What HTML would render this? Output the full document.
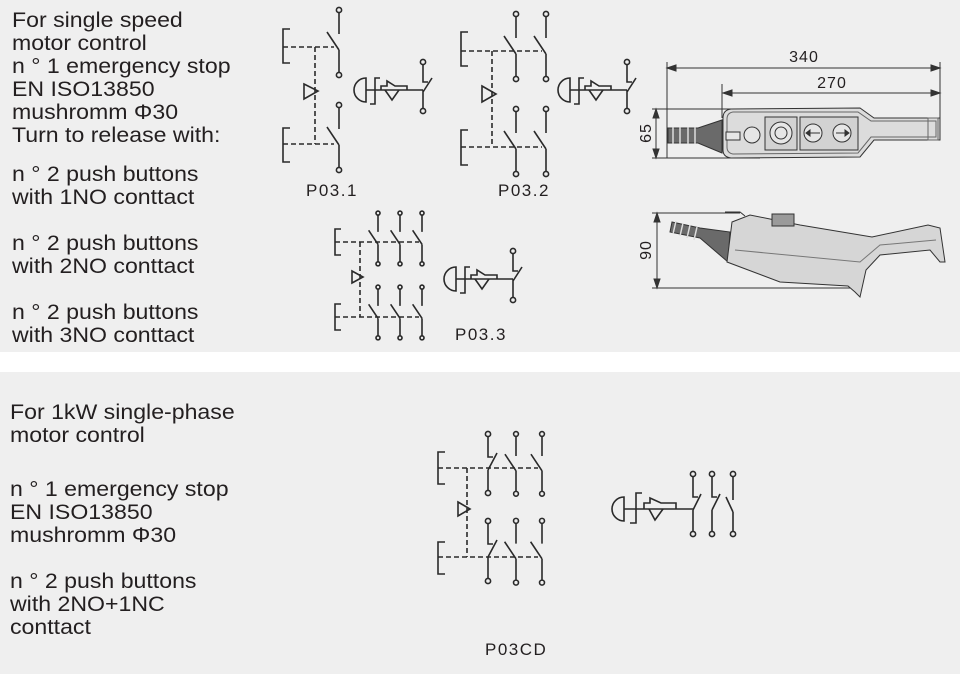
<!DOCTYPE html>
<html><head><meta charset="utf-8"><style>
html,body{margin:0;padding:0}
body{width:960px;height:674px;background:#efefef;position:relative;overflow:hidden;font-family:"Liberation Sans",Arial,sans-serif;color:#231f20}
.band{position:absolute;left:0;top:352px;width:960px;height:20px;background:#fff}
.t{position:absolute;font-size:21px;line-height:23px;white-space:nowrap;transform:scaleX(1.1);transform-origin:0 0}
svg{position:absolute;left:0;top:0}
use,g{vector-effect:non-scaling-stroke}
</style></head><body>
<div class="band"></div>
<div class="t" style="left:12px;top:9px">For single speed<br>motor control<br>n ° 1 emergency stop<br>EN ISO13850<br>mushromm Φ30<br>Turn to release with:</div>
<div class="t" style="left:12px;top:163px">n ° 2 push buttons<br>with 1NO conttact</div>
<div class="t" style="left:12px;top:232px">n ° 2 push buttons<br>with 2NO conttact</div>
<div class="t" style="left:12px;top:301px">n ° 2 push buttons<br>with 3NO conttact</div>
<div class="t" style="left:10px;top:401px">For 1kW single-phase<br>motor control</div>
<div class="t" style="left:10px;top:478px">n ° 1 emergency stop<br>EN ISO13850<br>mushromm Φ30</div>
<div class="t" style="left:10px;top:570px">n ° 2 push buttons<br>with 2NO+1NC<br>conttact</div>

<svg width="960" height="674" viewBox="0 0 960 674">
<defs>
<g id="no"><circle cx="0" cy="-37" r="2.6" vector-effect="non-scaling-stroke"/><path d="M0,-34V-13M-12,-15L0,3M0,3V25" vector-effect="non-scaling-stroke"/><circle cx="0" cy="28" r="2.6" vector-effect="non-scaling-stroke"/></g>
<g id="mush">
 <path d="M366,78A12,12 0 0 0 366,102Z"/>
 <path d="M366,90H423"/>
 <path d="M380,78H375V104H370"/>
 <path d="M381,90V86H387V81L395,86H407V90"/>
 <path d="M385,90L392,100L399,90"/>
 <circle cx="423" cy="62" r="2.6"/>
 <path d="M423,65V82H428M423,92L432,78M423,90V108"/>
 <circle cx="423" cy="111" r="2.6"/>
</g>
</defs>
<g fill="none" stroke="#2a2a2a" stroke-width="1.6">
<!-- P03.1 -->
<use href="#no" transform="translate(339,47)"/>
<use href="#no" transform="translate(339,142)"/>
<path d="M290,29H283V63H290M290,128H283V162H290"/>
<path d="M283,47H334M283,144H334M315,47V144" stroke-dasharray="5,3"/>
<polygon points="304,84 318,91 304,99"/>
<use href="#mush"/>
<!-- P03.2 -->
<use href="#no" transform="translate(516,51)"/>
<use href="#no" transform="translate(546,51)"/>
<use href="#no" transform="translate(516,146)"/>
<use href="#no" transform="translate(546,146)"/>
<path d="M468,32H461V66H468M468,130H461V165H468"/>
<path d="M461,51H542M461,147H542M492,51V147" stroke-dasharray="5,3"/>
<polygon points="482,86 496,94 482,102"/>
<use href="#mush" transform="translate(204,0)"/>
<!-- P03.3 -->
<g transform="translate(378,242) scale(0.78)"><use href="#no"/></g>
<g transform="translate(400,242) scale(0.78)"><use href="#no"/></g>
<g transform="translate(422,242) scale(0.78)"><use href="#no"/></g>
<g transform="translate(378,316) scale(0.78)"><use href="#no"/></g>
<g transform="translate(400,316) scale(0.78)"><use href="#no"/></g>
<g transform="translate(422,316) scale(0.78)"><use href="#no"/></g>
<path d="M341,229H335V255H341M341,304H335V330H341"/>
<path d="M335,242H419M335,317H419M360,242V317" stroke-dasharray="5,3"/>
<polygon points="352,271 363,277 352,283"/>
<use href="#mush" transform="translate(90,189)"/>
<!-- P03CD -->
<circle cx="488" cy="434" r="2.6"/><path d="M488,437V457H493M488,470L497,453M488,470V490"/><circle cx="488" cy="493" r="2.6"/>
<g transform="translate(516,468) scale(0.92)"><use href="#no"/></g>
<g transform="translate(542,468) scale(0.92)"><use href="#no"/></g>
<circle cx="488" cy="521" r="2.6"/><path d="M488,524V544H493M488,557L497,540M488,557V578"/><circle cx="488" cy="581" r="2.6"/>
<g transform="translate(516,556) scale(0.95)"><use href="#no"/></g>
<g transform="translate(542,556) scale(0.95)"><use href="#no"/></g>
<path d="M445,452H438V484H445M445,542H438V574H445"/>
<path d="M438,468H538M438,557H538M467,468V557" stroke-dasharray="5,3"/>
<polygon points="458,502 470,509 458,516"/>
<path d="M624,497A12,12 0 0 0 624,521Z"/>
<path d="M624,509H693"/>
<path d="M642,493H636V523H630"/>
<path d="M644,509V503H650V498L661,503H676V509"/>
<path d="M649,509L655,520L663,509"/>
<circle cx="693" cy="474" r="2.6"/><path d="M693,477V497H698M693,510L701,494M693,510V531"/><circle cx="693" cy="534" r="2.6"/>
<circle cx="712" cy="474" r="2.6"/><path d="M712,477V497H717M712,510L720,494M712,510V531"/><circle cx="712" cy="534" r="2.6"/>
<circle cx="733" cy="474" r="2.6"/><path d="M733,477V500M726,497L733,512M733,512V531"/><circle cx="733" cy="534" r="2.6"/>
</g>
<g font-family="Liberation Sans, Arial, sans-serif" font-size="17" fill="#231f20" letter-spacing="1.5">
<text x="306" y="196">P03.1</text>
<text x="498" y="196">P03.2</text>
<text x="455" y="340">P03.3</text>
<text x="485" y="655">P03CD</text>
</g>
<g stroke="#333" stroke-width="1" fill="none">
<path d="M667,62V158M940,62V120M722,84V118"/>
<path d="M667,68H940M723,93H940"/>
<path d="M667,68l9,-3v6zM940,68l-9,-3v6zM723,93l9,-3v6zM940,93l-9,-3v6z" fill="#333"/>
<path d="M652,109H760M652,158H760M656,109V158"/>
<path d="M656,109l-3,9h6zM656,158l-3,-9h6z" fill="#333"/>
</g>
<g font-family="Liberation Sans, Arial, sans-serif" font-size="16" fill="#231f20" text-anchor="middle" letter-spacing="1">
<text x="804" y="62">340</text>
<text x="832" y="88">270</text>
<text transform="translate(651,133) rotate(-90)">65</text>
<text transform="translate(651,250) rotate(-90)">90</text>
</g>
<g stroke="#333" stroke-width="1">
<path d="M668,128H698L722,120V153L698,143H668Z" fill="#6a6a6a"/>
<path d="M673,127V144M680,127V144M688,127V144M695,127V144" stroke="#ddd" stroke-width="1.5"/>
<path d="M723,118Q723,110 731,109L860,108L874,118H940V140H874L860,157L731,158Q723,157 723,150Z" fill="#dcdcdc"/>
<path d="M727,119Q727,113 733,112L858,112L871,121H936V137H871L858,153L733,154Q727,153 727,147Z" fill="none" stroke="#666"/>
<rect x="765" y="117" width="32" height="33" fill="#d2d2d2"/>
<rect x="800" y="117" width="58" height="33" fill="#d2d2d2"/>
<circle cx="752" cy="135" r="8" fill="#e6e6e6"/>
<rect x="726" y="132" width="14" height="8" fill="#e6e6e6"/>
<circle cx="781" cy="133" r="11" fill="#e6e6e6"/>
<circle cx="781" cy="133" r="6" fill="none"/>
<circle cx="813" cy="133" r="9" fill="#e6e6e6"/>
<circle cx="842" cy="133" r="9" fill="#e6e6e6"/>
<path d="M807,133H820M836,133H849" fill="none"/>
<path d="M806,133l4,-3v6zM849,133l-4,-3v6z" fill="#333"/>
<rect x="928" y="118" width="10" height="22" fill="none" stroke="#666"/>
</g>
<g stroke="#333" stroke-width="1">
<path d="M652,213H740M652,288H855M657,213V288" fill="none"/>
<path d="M657,213l-3,9h6zM657,288l-3,-9h6z" fill="#333"/>
<path d="M672,222L700,228L730,232L728,262L700,238L670,232Z" fill="#6a6a6a"/>
<path d="M676,221L673,234M683,223L680,236M690,225L687,238M697,227L694,240" stroke="#ddd" stroke-width="1.5"/>
<path d="M732,222L750,215L770,219L800,225L872,237L928,225L940,228L945,262L940,262L930,250L880,255L866,270L860,297L855,292L848,286L780,282L727,262Z" fill="#d6d6d6"/>
<path d="M735,250L860,262L880,245L936,240" fill="none" stroke="#777"/>
<rect x="772" y="214" width="22" height="12" fill="#9a9a9a"/>
<path d="M725,212H740L745,216" fill="none"/>
</g>
</svg>
</body></html>
